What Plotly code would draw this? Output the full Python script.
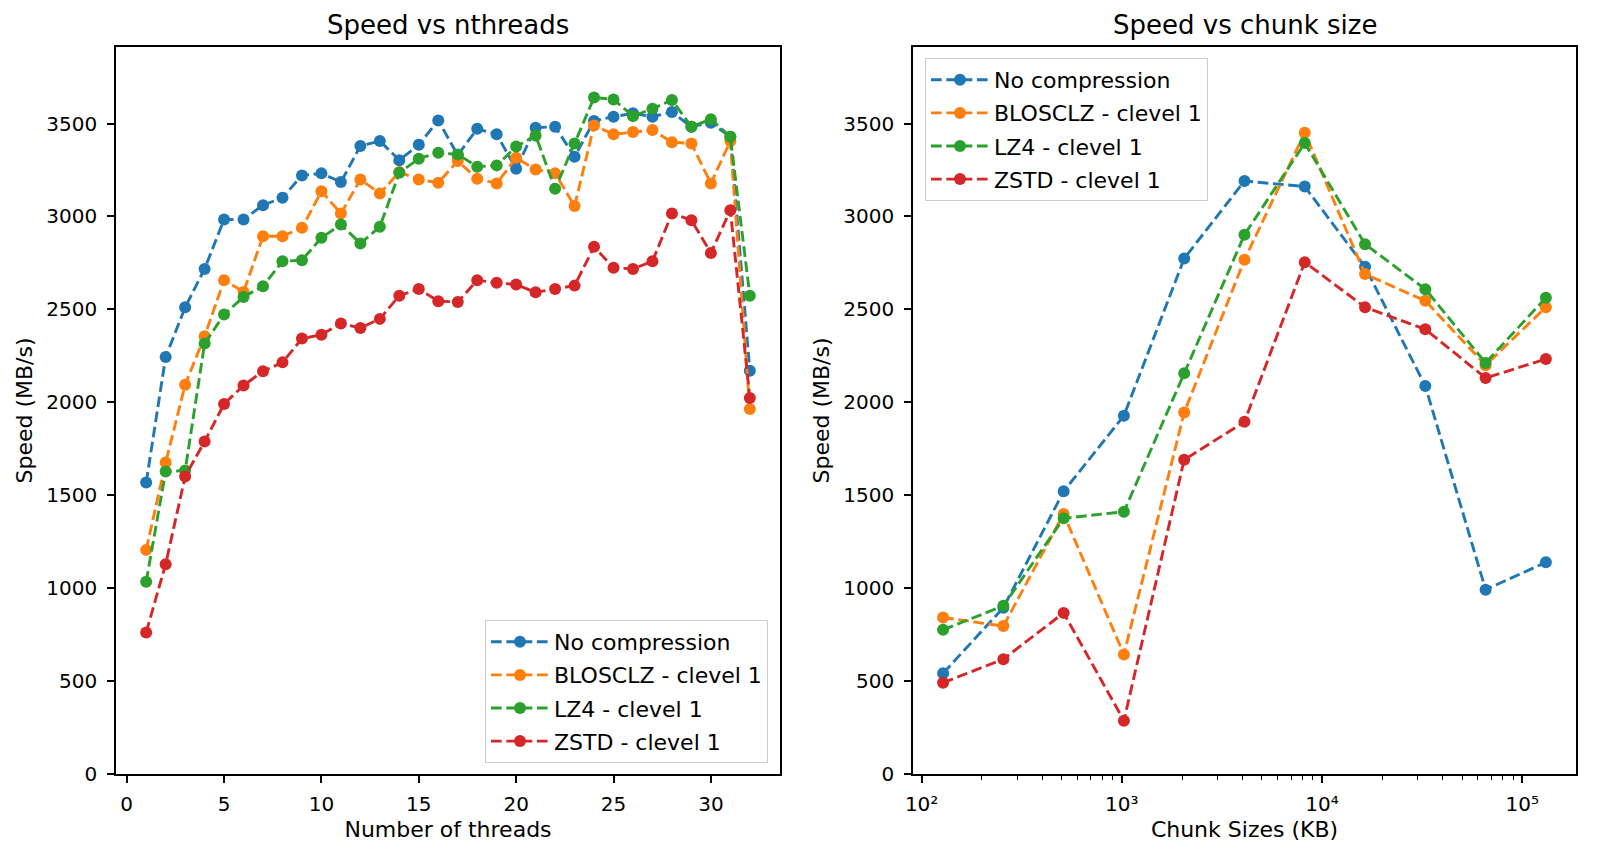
import plotly.graph_objects as go

# ---- data ----
threads = list(range(1, 33))
nocomp_t = [1568, 2244, 2511, 2718, 2984, 2984, 3061, 3101, 3221, 3232, 3185, 3379, 3406, 3303, 3386, 3517,
            3330, 3472, 3442, 3257, 3478, 3483, 3322, 3514, 3537, 3555, 3537, 3562, 3483, 3505, 3429, 2170]
blosclz_t = [1206, 1676, 2095, 2355, 2657, 2594, 2894, 2894, 2939, 3136, 3016, 3199, 3124, 3239, 3199, 3182,
             3298, 3203, 3178, 3316, 3253, 3232, 3056, 3490, 3442, 3454, 3465, 3400, 3393, 3178, 3406, 1964]
lz4_t = [1035, 1628, 1633, 2316, 2472, 2567, 2625, 2759, 2765, 2885, 2957, 2855, 2945, 3235, 3311, 3343,
         3334, 3268, 3275, 3376, 3436, 3149, 3393, 3640, 3630, 3540, 3580, 3627, 3483, 3523, 3429, 2574]
zstd_t = [762, 1129, 1601, 1789, 1991, 2091, 2167, 2215, 2343, 2364, 2424, 2400, 2449, 2574, 2610, 2544,
          2540, 2657, 2643, 2634, 2592, 2610, 2628, 2837, 2724, 2718, 2759, 3016, 2980, 2804, 3034, 2023]

chunks = [128, 256, 512, 1024, 2048, 4096, 8192, 16384, 32768, 65536, 131072]
nocomp_c = [542, 895, 1521, 1928, 2774, 3191, 3161, 2729, 2088, 992, 1139]
blosclz_c = [842, 796, 1399, 643, 1945, 2767, 3451, 2690, 2546, 2200, 2512]
lz4_c = [776, 905, 1376, 1411, 2156, 2902, 3395, 2851, 2609, 2212, 2563]
zstd_c = [491, 618, 867, 287, 1691, 1895, 2754, 2512, 2393, 2131, 2233]

names = ["No compression", "BLOSCLZ - clevel 1", "LZ4 - clevel 1", "ZSTD - clevel 1"]
colors = ["#1f77b4", "#ff7f0e", "#2ca02c", "#d62728"]
yticks = [0, 500, 1000, 1500, 2000, 2500, 3000, 3500]
xticks_t = [0, 5, 10, 15, 20, 25, 30]
log_major = [100, 1000, 10000, 100000]
log_major_text = ["10²", "10³", "10⁴", "10⁵"]
log_minor = [m * d for d in (100, 1000, 10000, 100000) for m in range(2, 10)]

FONT = "DejaVu Sans"
fig = go.Figure()

series_t = [nocomp_t, blosclz_t, lz4_t, zstd_t]
series_c = [nocomp_c, blosclz_c, lz4_c, zstd_c]
for i in range(4):
    fig.add_trace(go.Scatter(
        x=threads, y=series_t[i], name=names[i], mode="lines+markers",
        line=dict(color=colors[i], width=2.9, dash="10.7px,4.6px"),
        marker=dict(color=colors[i], size=12),
        xaxis="x", yaxis="y", legend="legend", legendgroup="t%d" % i))
for i in range(4):
    fig.add_trace(go.Scatter(
        x=chunks, y=series_c[i], name=names[i], mode="lines+markers",
        line=dict(color=colors[i], width=2.9, dash="10.7px,4.6px"),
        marker=dict(color=colors[i], size=12),
        xaxis="x2", yaxis="y2", legend="legend2", legendgroup="c%d" % i))

W, H = 1606, 862
L1, R1 = 116, 780
L2, R2 = 913, 1576
TOP, BOT = 47, 774

axis_common = dict(
    automargin=False,
    showline=True, linecolor="black", linewidth=1.5, mirror=True,
    ticks="outside", ticklen=7, tickwidth=1.5, tickcolor="black",
    showgrid=False, zeroline=False,
    tickfont=dict(family=FONT, size=20, color="black"),
    title_font=dict(family=FONT, size=22, color="black"),
)

legend_common = dict(
    bgcolor="rgba(255,255,255,0.8)", bordercolor="#cccccc", borderwidth=1,
    font=dict(family=FONT, size=22, color="black"), tracegroupgap=1.5,
    itemwidth=58,
)

fig.update_layout(
    width=W, height=H,
    margin=dict(l=0, r=0, t=0, b=0, autoexpand=False),
    paper_bgcolor="white", plot_bgcolor="white",
    font=dict(family=FONT, size=20, color="black"),
    xaxis=dict(domain=[L1 / W, R1 / W], range=[-0.55, 33.55], tickvals=xticks_t,
               anchor="y", title=dict(text="Number of threads", standoff=7),
               ticklabelstandoff=4, **axis_common),
    yaxis=dict(domain=[(H - BOT) / H, (H - TOP) / H], range=[0, 3912], tickvals=yticks,
               anchor="x", title=dict(text="Speed (MB/s)", standoff=8),
               ticklabelstandoff=6, **axis_common),
    xaxis2=dict(domain=[L2 / W, R2 / W], type="log", range=[1.957, 5.268],
                tickvals=log_major, ticktext=log_major_text,
                minor=dict(tickvals=log_minor, ticks="outside", ticklen=4, tickwidth=1.2,
                           tickcolor="black", showgrid=False),
                anchor="y2", title=dict(text="Chunk Sizes (KB)", standoff=7),
                ticklabelstandoff=4, **axis_common),
    yaxis2=dict(domain=[(H - BOT) / H, (H - TOP) / H], range=[0, 3912], tickvals=yticks,
                anchor="x2", title=dict(text="Speed (MB/s)", standoff=8),
                ticklabelstandoff=6, **axis_common),
    legend=dict(x=768 / W, y=(H - 763) / H, xanchor="right", yanchor="bottom", **legend_common),
    legend2=dict(x=925 / W, y=(H - 58) / H, xanchor="left", yanchor="top", **legend_common),
    annotations=[
        dict(text="Speed vs nthreads", x=(L1 + R1) / 2 / W, y=(H - 25) / H,
             xref="paper", yref="paper", xanchor="center", yanchor="middle",
             showarrow=False, font=dict(family=FONT, size=26, color="black")),
        dict(text="Speed vs chunk size", x=(L2 + R2) / 2 / W, y=(H - 25) / H,
             xref="paper", yref="paper", xanchor="center", yanchor="middle",
             showarrow=False, font=dict(family=FONT, size=26, color="black")),
    ],
)

fig.write_html("out.html")
